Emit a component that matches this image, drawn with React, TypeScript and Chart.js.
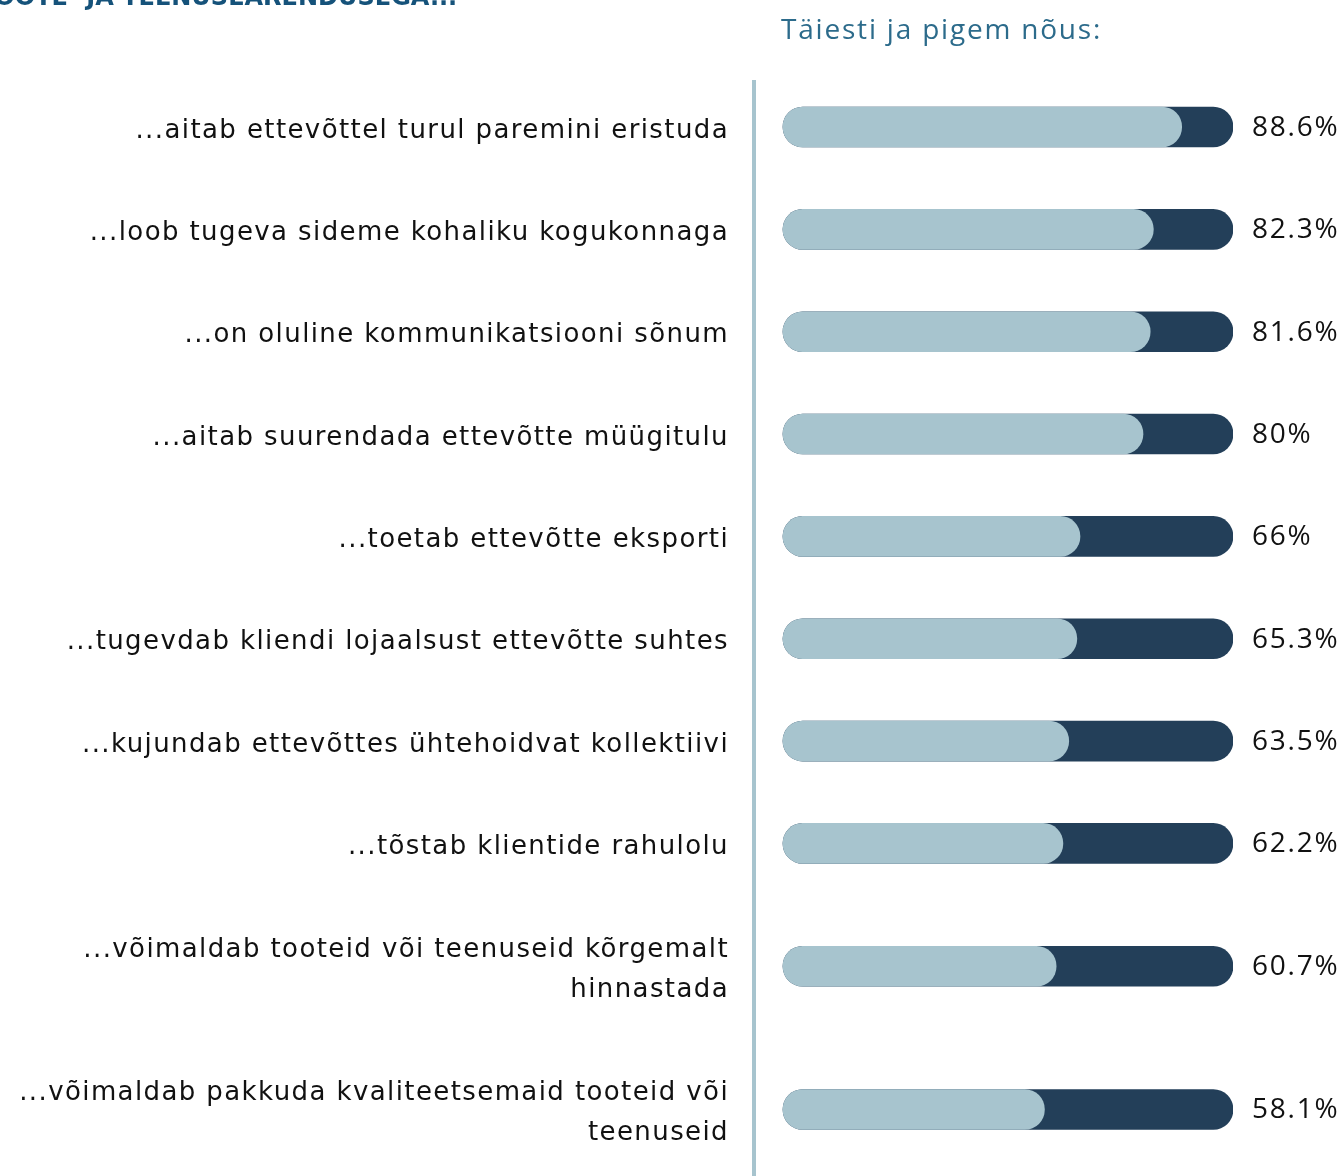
import React, { useEffect, useRef } from "react";
import { Chart, registerables } from "chart.js";

Chart.register(...registerables);

const titleText = "TOOTE- JA TEENUSEARENDUSEGA...";
const headerText = "Täiesti ja pigem nõus:";

const categories: (string | string[])[] = [
  "...aitab ettevõttel turul paremini eristuda",
  "...loob tugeva sideme kohaliku kogukonnaga",
  "...on oluline kommunikatsiooni sõnum",
  "...aitab suurendada ettevõtte müügitulu",
  "...toetab ettevõtte eksporti",
  "...tugevdab kliendi lojaalsust ettevõtte suhtes",
  "...kujundab ettevõttes ühtehoidvat kollektiivi",
  "...tõstab klientide rahulolu",
  ["...võimaldab tooteid või teenuseid kõrgemalt", "hinnastada"],
  ["...võimaldab pakkuda kvaliteetsemaid tooteid või", "teenuseid"],
];

const agreeValues: number[] = [88.6, 82.3, 81.6, 80, 66, 65.3, 63.5, 62.2, 60.7, 58.1];
const fullValues: number[] = [100, 100, 100, 100, 100, 100, 100, 100, 100, 100];

const LIGHT = "#a7c4ce";
const DARK = "#233f59";

// row positions derived from how many lines each label wraps to
const lineCounts = categories.map((c) => (Array.isArray(c) ? c.length : 1));
const rowPositions: number[] = [];
lineCounts.forEach((n, i) => {
  if (i === 0) rowPositions.push(0);
  else rowPositions.push(rowPositions[i - 1] + 1 + 0.2 * (lineCounts[i - 1] - 1 + (n - 1)));
});

const LABEL_FONT = "'DejaVu Sans', sans-serif";
const NUM_FONT = "'Open Sans', sans-serif";

export default function App() {
  const ref = useRef<HTMLCanvasElement | null>(null);

  useEffect(() => {
    document.body.style.margin = "0";
    const canvas = ref.current;
    if (!canvas) return;

    const spacing = {
      id: "spacing",
      beforeDraw(chart: any) {
        (chart.ctx as any).letterSpacing = "1.4px";
      },
    };

    const overlay = {
      id: "overlay",
      afterDraw(chart: any) {
        const ctx = chart.ctx as any;
        ctx.save();
        // clipped title at the very top
        ctx.letterSpacing = "0px";
        ctx.fillStyle = "#15527a";
        ctx.font = "bold 24px 'DejaVu Sans', sans-serif";
        ctx.textBaseline = "alphabetic";
        ctx.textAlign = "left";
        ctx.fillText(titleText, -22, 5);
        // header
        ctx.letterSpacing = "1.8px";
        ctx.fillStyle = "#2c6b8b";
        ctx.font = `28px ${NUM_FONT}`;
        ctx.fillText(headerText, 781, 39);
        // value labels
        const meta = chart.getDatasetMeta(1);
        ctx.fillStyle = "#111111";
        ctx.font = `28px ${NUM_FONT}`;
        ctx.textBaseline = "middle";
        meta.data.forEach((el: any, i: number) => {
          ctx.fillText(`${agreeValues[i]}%`, el.x + 19, el.y + 1);
        });
        ctx.restore();
      },
    };

    const chart = new Chart(canvas, {
      type: "bar",
      data: {
        datasets: [
          {
            label: "Täiesti ja pigem nõus",
            data: agreeValues.map((v, i) => ({ x: v, y: rowPositions[i] })),
            backgroundColor: LIGHT,
            borderRadius: 20,
            borderSkipped: false,
            barThickness: 40,
            grouped: false,
            order: 0,
          } as any,
          {
            label: "Kokku",
            data: fullValues.map((v, i) => ({ x: v, y: rowPositions[i] })),
            backgroundColor: DARK,
            borderRadius: 20,
            borderSkipped: false,
            barThickness: 40,
            grouped: false,
            order: 1,
          } as any,
        ],
      },
      options: {
        indexAxis: "y",
        animation: false,
        responsive: false,
        devicePixelRatio: 1,
        layout: { padding: { top: 82, right: 111, bottom: 0, left: 0 } },
        plugins: {
          legend: { display: false },
          tooltip: { enabled: false },
          title: { display: false },
        },
        scales: {
          x: {
            type: "linear",
            display: false,
            min: -6.44,
            max: 100,
          },
          y: {
            type: "linear",
            reverse: true,
            offset: false,
            grace: 0,
            bounds: "data",
            min: -0.44,
            max: rowPositions[rowPositions.length - 1] + 0.65,
            afterBuildTicks: (scale: any) => {
              scale.ticks = rowPositions.map((v) => ({ value: v }));
            },
            afterFit: (scale: any) => {
              scale.width = 754;
              scale.paddingTop = 0;
              scale.paddingBottom = 0;
            },
            grid: { display: false, offset: false, drawTicks: false, tickLength: 0 },
            border: { display: true, color: LIGHT, width: 4 },
            ticks: {
              autoSkip: false,
              padding: 25,
              labelOffset: 4,
              color: "#111111",
              font: { family: LABEL_FONT, size: 26, lineHeight: 40 / 26 },
              callback: (_v: any, idx: number) => categories[idx],
            },
          },
        },
      } as any,
      plugins: [spacing, overlay],
    });

    return () => chart.destroy();
  }, []);

  return (
    <div style={{ width: 1344, height: 1176, position: "relative" }}>
      <canvas ref={ref} width={1344} height={1176} />
    </div>
  );
}
